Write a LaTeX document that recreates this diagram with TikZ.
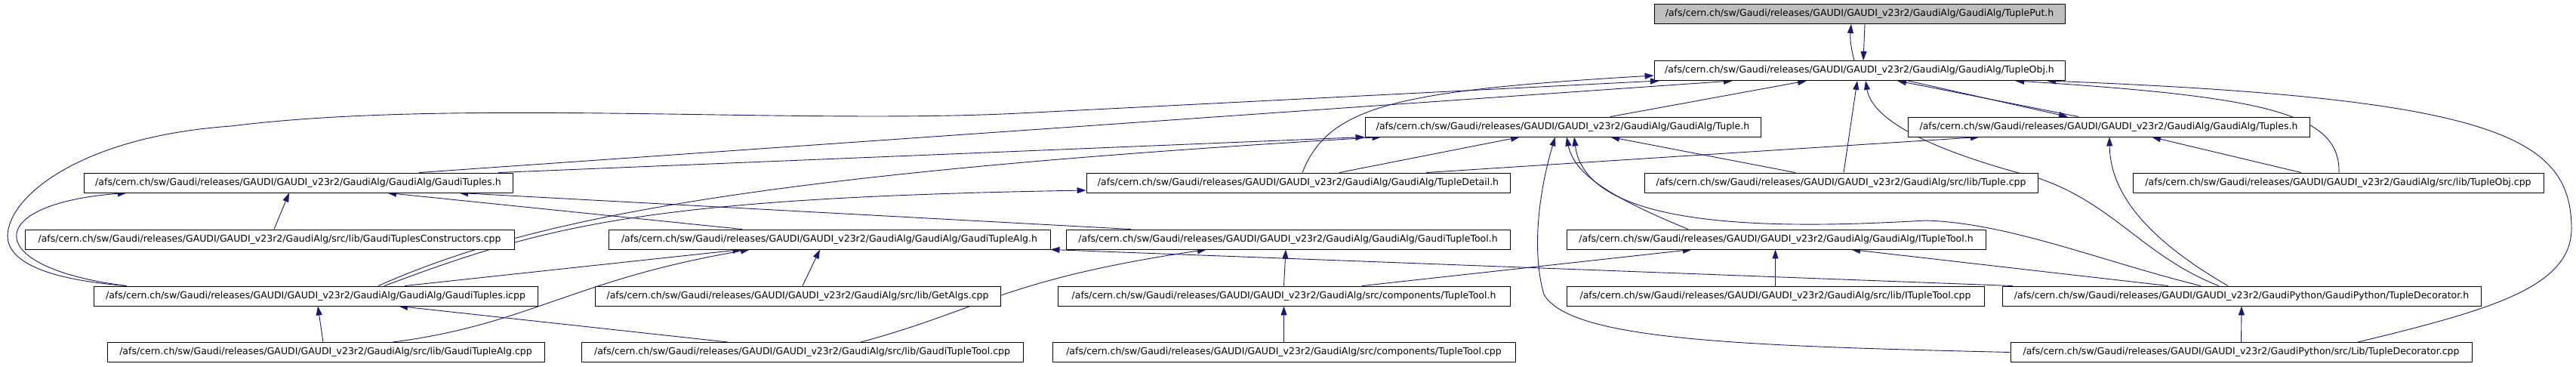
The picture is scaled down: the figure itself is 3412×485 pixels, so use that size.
\documentclass[tikz,border=0pt]{standalone}
\usepackage{fontspec}
\setmainfont{DejaVu Sans}
\definecolor{edgeblue}{HTML}{191970}
\definecolor{focusgray}{HTML}{BFBFBF}
\usetikzlibrary{arrows.meta, backgrounds}
\newcommand{\gaudiroot}{/afs/cern.ch/sw/Gaudi/releases/GAUDI/GAUDI\_v23r2}

\begin{document}
\begin{tikzpicture}[x=1pt, y=-1pt,
  file/.style={draw=black, fill=white, line width=0.9pt, inner sep=0pt,
               minimum height=26pt, font=\fontsize{12.5}{14}\selectfont},
  focus/.style={file, fill=focusgray},
  dep/.style={-{Triangle[length=12pt, width=8pt]}, edgeblue, line width=0.9pt},
]
\useasboundingbox (0,0) rectangle (3412,485);

% rows of the include graph
\node[focus, minimum width=544pt] (tupleput) at (2463,18.5) {\gaudiroot/GaudiAlg/GaudiAlg/TuplePut.h};
\node[file, minimum width=544pt] (tupleobj) at (2463,93.5) {\gaudiroot/GaudiAlg/GaudiAlg/TupleObj.h};
\node[file, minimum width=524pt] (tuple) at (2070,168) {\gaudiroot/GaudiAlg/GaudiAlg/Tuple.h};
\node[file, minimum width=532pt] (tuples) at (2793,168) {\gaudiroot/GaudiAlg/GaudiAlg/Tuples.h};
\node[file, minimum width=568pt] (gaudituples) at (395,242) {\gaudiroot/GaudiAlg/GaudiAlg/GaudiTuples.h};
\node[file, minimum width=561pt] (tupledetail) at (1719.5,242) {\gaudiroot/GaudiAlg/GaudiAlg/TupleDetail.h};
\node[file, minimum width=521pt] (tuplecpp) at (2438.5,242) {\gaudiroot/GaudiAlg/src/lib/Tuple.cpp};
\node[file, minimum width=544pt] (tupleobjcpp) at (3097,242) {\gaudiroot/GaudiAlg/src/lib/TupleObj.cpp};
\node[file, minimum width=648pt] (constructors) at (357,317) {\gaudiroot/GaudiAlg/src/lib/GaudiTuplesConstructors.cpp};
\node[file, minimum width=585pt] (tuplealg) at (1098.5,317) {\gaudiroot/GaudiAlg/GaudiAlg/GaudiTupleAlg.h};
\node[file, minimum width=588pt] (tupletool) at (1706,317) {\gaudiroot/GaudiAlg/GaudiAlg/GaudiTupleTool.h};
\node[file, minimum width=555pt] (ituple) at (2352.5,317) {\gaudiroot/GaudiAlg/GaudiAlg/ITupleTool.h};
\node[file, minimum width=588pt] (icpp) at (418,392) {\gaudiroot/GaudiAlg/GaudiAlg/GaudiTuples.icpp};
\node[file, minimum width=537pt] (getalgs) at (1056.5,392) {\gaudiroot/GaudiAlg/src/lib/GetAlgs.cpp};
\node[file, minimum width=599pt] (comptool) at (1700.5,392) {\gaudiroot/GaudiAlg/src/components/TupleTool.h};
\node[file, minimum width=553pt] (ituplecpp) at (2351.5,392) {\gaudiroot/GaudiAlg/src/lib/ITupleTool.cpp};
\node[file, minimum width=634pt] (decorator) at (2969,392) {\gaudiroot/GaudiPython/GaudiPython/TupleDecorator.h};
\node[file, minimum width=579pt] (tuplealgcpp) at (431.5,466.5) {\gaudiroot/GaudiAlg/src/lib/GaudiTupleAlg.cpp};
\node[file, minimum width=585pt] (tupletoolcpp) at (1062.5,466.5) {\gaudiroot/GaudiAlg/src/lib/GaudiTupleTool.cpp};
\node[file, minimum width=613pt] (comptoolcpp) at (1700.5,466.5) {\gaudiroot/GaudiAlg/src/components/TupleTool.cpp};
\node[file, minimum width=611pt] (decoratorcpp) at (2968.5,466.5) {\gaudiroot/GaudiPython/src/Lib/TupleDecorator.cpp};

\begin{scope}[on background layer]
% TuplePut.h <-> TupleObj.h, TupleObj.h <-> Tuples.h
\draw[dep] ([xshift=-7pt]tupleobj.north) to[bend left=10] ([xshift=-11pt]tupleput.south);
\draw[dep] ([xshift=7pt]tupleput.south) -- ([xshift=5pt]tupleobj.north);
\draw[dep] ([xshift=-40pt]tuples.north) -- ([xshift=50pt]tupleobj.south);
\draw[dep] ([xshift=64pt]tupleobj.south) -- ([xshift=-54pt]tuples.north);

% into TupleObj.h
\draw[dep] ([xshift=-250pt]icpp.north) .. controls (60,370) and (-2,345) .. (12,300)
  .. controls (25,250) and (120,180) .. (306,167)
  .. controls (600,130) and (1050,165) .. (1350,150) -- ([xshift=-265pt]tupleobj.south);
\draw[dep] ([xshift=160pt]gaudituples.north) -- ([xshift=-168pt]tupleobj.south);
\draw[dep] ([xshift=5.5pt]tupledetail.north) .. controls (1760,140) and (1850,120) .. ([yshift=-6.5pt]tupleobj.west);
\draw[dep] ([xshift=63pt]tuple.north) -- ([xshift=-70pt]tupleobj.south);
\draw[dep] ([xshift=3.5pt]tuplecpp.north) -- ([xshift=-3pt]tupleobj.south);
\draw[dep] ([xshift=-30pt]decorator.north) .. controls (2840,340) and (2800,270) .. (2700,236)
  .. controls (2560,200) and (2480,160) .. ([xshift=8pt]tupleobj.south);
\draw[dep] ([xshift=1pt]tupleobjcpp.north) .. controls (3100,150) and (3000,128) .. ([xshift=206pt]tupleobj.south);
\draw[dep] ([xshift=154.5pt]decoratorcpp.north) .. controls (3300,410) and (3408,380) .. (3406,300)
  .. controls (3404,180) and (3300,130) .. ([xshift=248pt]tupleobj.south);

% into Tuple.h
\draw[dep] ([xshift=265pt]gaudituples.north) -- (tuple.south west);
\draw[dep] ([xshift=83pt]icpp.north) .. controls (700,290) and (1000,230) .. ([xshift=22pt]tuple.south west);
\draw[dep] ([xshift=54.5pt]tupledetail.north) -- ([xshift=-57pt]tuple.south);
\draw[dep] ([xshift=-60.5pt]tuplecpp.north) -- ([xshift=63pt]tuple.south);
\draw[dep] ([xshift=-116.5pt]ituple.north) .. controls (2130,260) and (2085,230) .. ([xshift=5pt]tuple.south);
\draw[dep] ([xshift=-54pt]decorator.north) .. controls (2780,345) and (2660,295) .. (2550,292)
  .. controls (2330,305) and (2100,300) .. ([xshift=15pt]tuple.south);
\draw[dep] (decoratorcpp.west) .. controls (2300,458) and (2080,450) .. (2045,390)
  .. controls (2025,320) and (2045,230) .. ([xshift=-10pt]tuple.south);

% into Tuples.h
\draw[dep] ([xshift=169.5pt]tupledetail.north) -- ([xshift=-171pt]tuples.south);
\draw[dep] ([xshift=-18pt]decorator.north) .. controls (2850,320) and (2795,260) .. ([xshift=1pt]tuples.south);
\draw[dep] ([xshift=-49pt]tupleobjcpp.north) -- ([xshift=57pt]tuples.south);

% into GaudiTuples.h and TupleDetail.h
\draw[dep] ([xshift=-250pt]icpp.north) .. controls (-25,355) and (-25,270) .. ([xshift=-227pt]gaudituples.south);
\draw[dep] ([xshift=6pt]constructors.north) -- ([xshift=-12pt]gaudituples.south);
\draw[dep] ([xshift=-115.5pt]tuplealg.north) -- ([xshift=118pt]gaudituples.south);
\draw[dep] ([xshift=-208pt]tupletool.north) -- ([xshift=213pt]gaudituples.south);
\draw[dep] ([xshift=91pt]icpp.north) .. controls (720,300) and (850,262) .. ([yshift=-10pt]tupledetail.west);

% fourth row targets
\draw[dep] ([xshift=118pt]icpp.north) -- ([xshift=-116pt]tuplealg.south);
\draw[dep] ([xshift=88.5pt]tuplealgcpp.north) .. controls (700,430) and (760,370) .. ([xshift=-105.5pt]tuplealg.south);
\draw[dep] ([xshift=6.5pt]getalgs.north) -- ([xshift=-12.5pt]tuplealg.south);
\draw[dep] ([xshift=-303pt]decorator.north) -- (tuplealg.south east);
\draw[dep] ([xshift=77.5pt]tupletoolcpp.north) .. controls (1300,410) and (1330,370) .. ([xshift=-108pt]tupletool.south);
\draw[dep] (comptool.north) -- ([xshift=-3pt]tupletool.south);
\draw[dep] ([xshift=103.5pt]comptool.north) -- ([xshift=-111.5pt]ituple.south);
\draw[dep] (ituplecpp.north) -- ([xshift=-1pt]ituple.south);
\draw[dep] ([xshift=-97pt]decorator.north) -- ([xshift=99.5pt]ituple.south);

% fifth row targets
\draw[dep] ([xshift=-3.5pt]tuplealgcpp.north) -- ([xshift=3pt]icpp.south);
\draw[dep] ([xshift=-98.5pt]tupletoolcpp.north) -- ([xshift=110pt]icpp.south);
\draw[dep] (comptoolcpp.north) -- (comptool.south);
\draw[dep] (decoratorcpp.north) -- (decorator.south);
\end{scope}
\end{tikzpicture}
\end{document}
